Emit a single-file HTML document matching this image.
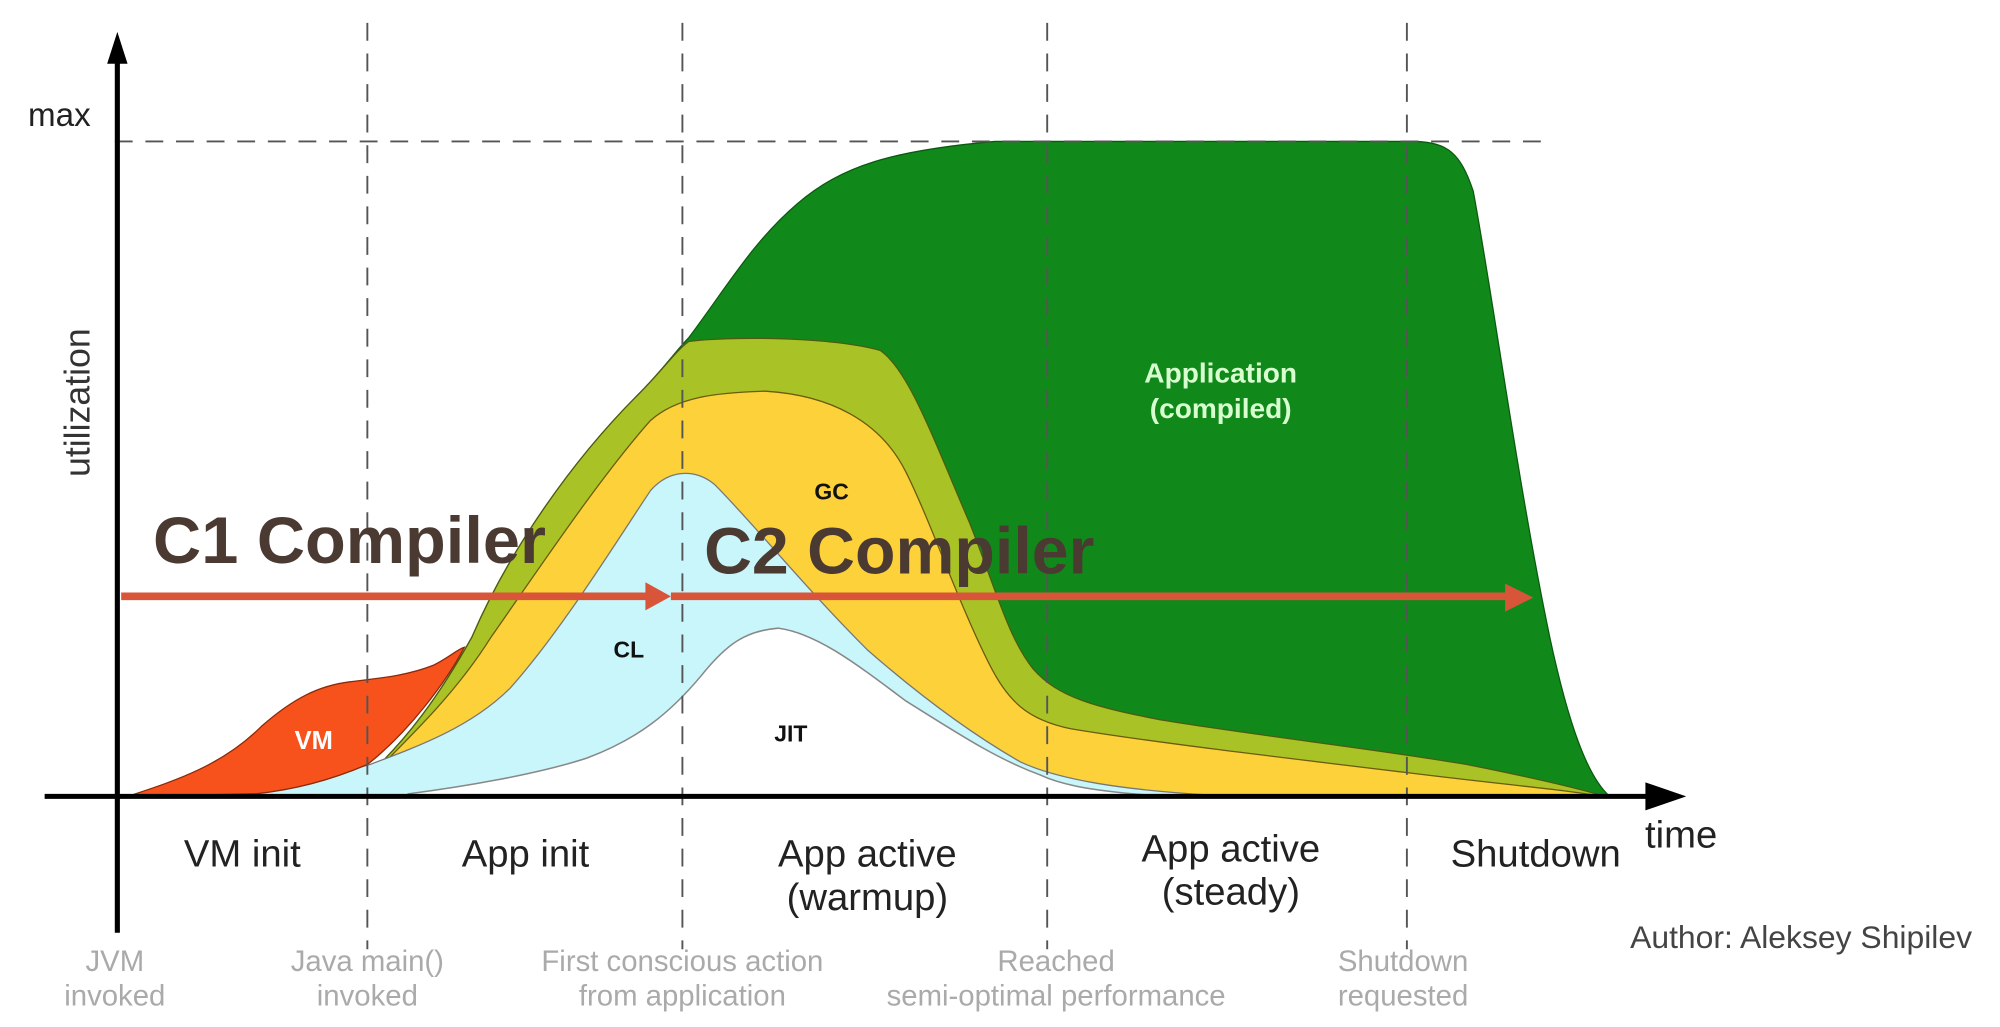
<!DOCTYPE html>
<html><head><meta charset="utf-8"><style>
html,body{margin:0;padding:0;background:#fff;}
svg{display:block;}
</style></head><body>
<svg width="2000" height="1027" viewBox="0 0 1568 806" preserveAspectRatio="none" xmlns="http://www.w3.org/2000/svg" font-family="Liberation Sans, sans-serif">
<rect width="1568" height="806" fill="#fff"/>
<path d="M285,612 C320,580 345,545 370,500 C400,430 450,360 500,310 C520,290 530,275 540,265 C570,225 590,190 625,160 C660,130 700,118 780,111 L1110,111 C1135,112 1145,120 1155,150 C1170,230 1190,380 1215,500 C1230,570 1245,610 1262,625 L285,625 Z" fill="#11891a" stroke="#0b5a10" stroke-width="1"/>
<path d="M285,612 C320,580 345,545 370,500 C400,430 450,360 500,310 C520,290 530,275 540,268 C570,264 650,264 690,275 C712,290 730,340 760,410 C780,460 790,500 810,525 C830,548 860,555 910,565 C990,578 1080,588 1150,600 C1200,610 1235,618 1258,625 Z" fill="#a9c225" stroke="#4d5a10" stroke-width="1"/>
<path d="M290,610 C330,570 360,540 385,500 C420,450 470,375 510,330 C530,312 560,308 600,307 C650,310 690,330 710,370 C730,410 750,470 775,520 C790,550 805,565 840,572 C900,582 1000,594 1100,606 C1180,616 1230,620 1255,625 L290,625 Z" fill="#fdd13a" stroke="#6b5a10" stroke-width="1"/>
<path d="M200,623 C240,615 270,605 290,600 C330,585 370,570 400,540 C440,495 480,430 510,385 C525,368 545,368 560,380 C590,410 630,460 680,510 C720,545 760,575 800,598 C830,612 880,620 950,624 L1000,625 L200,625 Z" fill="#c8f6fb" stroke="#777" stroke-width="1"/>
<path d="M320,623 C360,618 420,608 460,595 C500,580 525,560 550,530 C570,505 585,495 610,493 C640,497 670,520 710,550 C750,575 780,595 815,608 C830,615 850,620 900,624 L320,625 Z" fill="#fff" stroke="#888" stroke-width="1.2"/>
<path d="M100,625 C140,612 175,600 205,570 C230,548 250,538 275,535 C300,532 320,530 340,522 C352,516 358,510 364,508 C350,535 320,575 288,600 C260,612 230,620 200,623 L100,625 Z" fill="#f8521c" stroke="#8a2a0a" stroke-width="1"/>
<g stroke="#555" stroke-width="1.5" stroke-dasharray="14,10" fill="none">
<line x1="90" y1="111" x2="1215" y2="111"/>
<line x1="288" y1="18" x2="288" y2="745"/>
<line x1="535" y1="18" x2="535" y2="745"/>
<line x1="821" y1="18" x2="821" y2="745"/>
<line x1="1103" y1="18" x2="1103" y2="745"/>
</g>
<line x1="92" y1="45" x2="92" y2="732" stroke="#000" stroke-width="4"/>
<polygon points="92,25 84,50 100,50" fill="#000"/>
<line x1="35" y1="625" x2="1295" y2="625" stroke="#000" stroke-width="4"/>
<polygon points="1322,625 1290,614 1290,636" fill="#000"/>
<text x="22" y="99" font-size="26" fill="#222">max</text>
<text transform="translate(70,316) rotate(-90)" font-size="28" fill="#333" text-anchor="middle">utilization</text>
<text x="246" y="588" font-size="20" font-weight="bold" fill="#fff" text-anchor="middle">VM</text>
<text x="493" y="516" font-size="18" font-weight="bold" fill="#111" text-anchor="middle">CL</text>
<text x="652" y="392" font-size="18" font-weight="bold" fill="#111" text-anchor="middle">GC</text>
<text x="620" y="582" font-size="18" font-weight="bold" fill="#111" text-anchor="middle">JIT</text>
<text x="957" y="300" font-size="22" font-weight="bold" fill="#d8ffd0" text-anchor="middle">Application</text>
<text x="957" y="328" font-size="22" font-weight="bold" fill="#d8ffd0" text-anchor="middle">(compiled)</text>
<line x1="95" y1="468" x2="510" y2="468" stroke="#d9553a" stroke-width="6"/>
<polygon points="526,468 506,457 506,479" fill="#d9553a"/>
<line x1="526" y1="468" x2="1185" y2="468" stroke="#d9553a" stroke-width="6"/>
<polygon points="1202,469 1180,458 1180,480" fill="#d9553a"/>
<text x="120" y="442" font-size="52" font-weight="bold" fill="#4a3a32" textLength="308" lengthAdjust="spacingAndGlyphs">C1 Compiler</text>
<text x="552" y="450" font-size="52" font-weight="bold" fill="#4a3a32" textLength="306" lengthAdjust="spacingAndGlyphs">C2 Compiler</text>
<g font-size="30" fill="#222" text-anchor="middle">
<text x="190" y="680">VM init</text>
<text x="412" y="680">App init</text>
<text x="680" y="680">App active</text>
<text x="680" y="714">(warmup)</text>
<text x="965" y="676">App active</text>
<text x="965" y="710">(steady)</text>
<text x="1204" y="680">Shutdown</text>
<text x="1318" y="665">time</text>
</g>
<g font-size="23" fill="#aaa" text-anchor="middle">
<text x="90" y="762">JVM</text><text x="90" y="789">invoked</text>
<text x="288" y="762">Java main()</text><text x="288" y="789">invoked</text>
<text x="535" y="762">First conscious action</text><text x="535" y="789">from application</text>
<text x="828" y="762">Reached</text><text x="828" y="789">semi-optimal performance</text>
<text x="1100" y="762">Shutdown</text><text x="1100" y="789">requested</text>
</g>
<text x="1278" y="744" font-size="25" fill="#444">Author: Aleksey Shipilev</text>
</svg>
</body></html>
